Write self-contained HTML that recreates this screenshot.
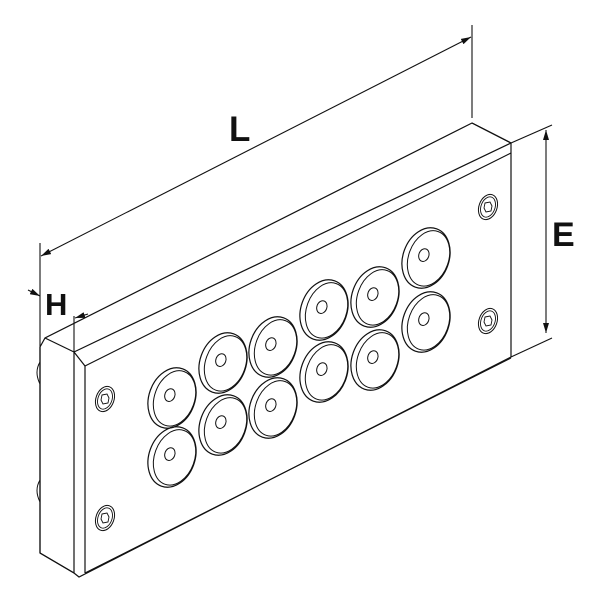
<!DOCTYPE html>
<html><head><style>
html,body{margin:0;padding:0;background:#fff;}
svg{display:block;}
text{font-family:"Liberation Sans",Arial,sans-serif;font-weight:bold;fill:#111;}
</style></head><body>
<svg width="600" height="600" viewBox="0 0 600 600" xmlns="http://www.w3.org/2000/svg">
<defs>
<marker id="ar" viewBox="0 0 10 6" refX="10" refY="3" markerWidth="10" markerHeight="6" orient="auto-start-reverse" markerUnits="userSpaceOnUse">
<path d="M0,0 L10,3 L0,6 z" fill="#111"/>
</marker>
<g id="gr">
<ellipse cx="0" cy="0" rx="23" ry="31" fill="none" stroke="#111" stroke-width="1.2" transform="rotate(20)"/>
<ellipse cx="2.5" cy="-0.5" rx="20" ry="28.5" fill="none" stroke="#111" stroke-width="1" transform="rotate(20)"/>
<ellipse cx="-3" cy="-2" rx="5" ry="6.5" fill="none" stroke="#111" stroke-width="1" transform="rotate(20)"/>
</g>
<g id="sc">
<ellipse cx="0" cy="0" rx="9" ry="13" fill="none" stroke="#111" stroke-width="1" transform="rotate(20)"/>
<ellipse cx="0" cy="0" rx="7" ry="10.5" fill="none" stroke="#111" stroke-width="0.9" transform="rotate(20)"/>
<path d="M-3,-4 L2,-5 L4,-1 L3,4 L-2,5 L-4,1 z" fill="none" stroke="#111" stroke-width="0.9"/>
</g>
</defs>
<g fill="none" stroke="#111" stroke-width="1.2">
<path d="M40,347 L45,338 L472,123 L511,143 L511,357 L79,577 L74,573 L40,553 Z" fill="#fff"/>
<path d="M74,352 L511,143"/>
<path d="M45,338 L74,352"/>
<path d="M85,366 L511,153"/>
<path d="M74,352 L85,366"/>
<path d="M74,352 L74,573"/>
<path d="M85,366 L85,573"/>
<path d="M40,347 L40,553"/>
<path d="M40,553 L74,573"/>
<path d="M472,123 L511,143"/>
<path d="M85,573 L511,358" stroke-width="1"/>
<path d="M40,362 Q34,372 40,384" stroke-width="1"/>
<path d="M40,480 Q34,490 40,502" stroke-width="1"/>
</g>
<use href="#gr" x="172" y="398"/><use href="#gr" x="172" y="457"/>
<use href="#gr" x="223" y="363"/><use href="#gr" x="223" y="425"/>
<use href="#gr" x="273" y="347"/><use href="#gr" x="273" y="408"/>
<use href="#gr" x="324" y="310"/><use href="#gr" x="324" y="372"/>
<use href="#gr" x="375" y="297"/><use href="#gr" x="375" y="360"/>
<use href="#gr" x="426" y="258"/><use href="#gr" x="426" y="322"/>
<use href="#sc" x="105" y="399"/><use href="#sc" x="105" y="518"/>
<use href="#sc" x="488" y="207"/><use href="#sc" x="488" y="321"/>
<g stroke="#111" stroke-width="1.1" fill="none">
<path d="M40,243 L40,347"/>
<path d="M472,25 L472,118"/>
<path d="M41,256 L471,37" marker-start="url(#ar)" marker-end="url(#ar)"/>
<path d="M511,143 L552,125"/>
<path d="M511,357 L552,338"/>
<path d="M546,130 L546,333" marker-start="url(#ar)" marker-end="url(#ar)"/>
<path d="M74,316 L74,352"/>
<path d="M28,290 L40,296" marker-end="url(#ar)"/>
<path d="M88,314 L75,318" marker-end="url(#ar)"/>
</g>
<text x="229" y="141" font-size="35">L</text>
<text x="552" y="246" font-size="34">E</text>
<text x="45" y="315" font-size="31">H</text>
</svg>
</body></html>
